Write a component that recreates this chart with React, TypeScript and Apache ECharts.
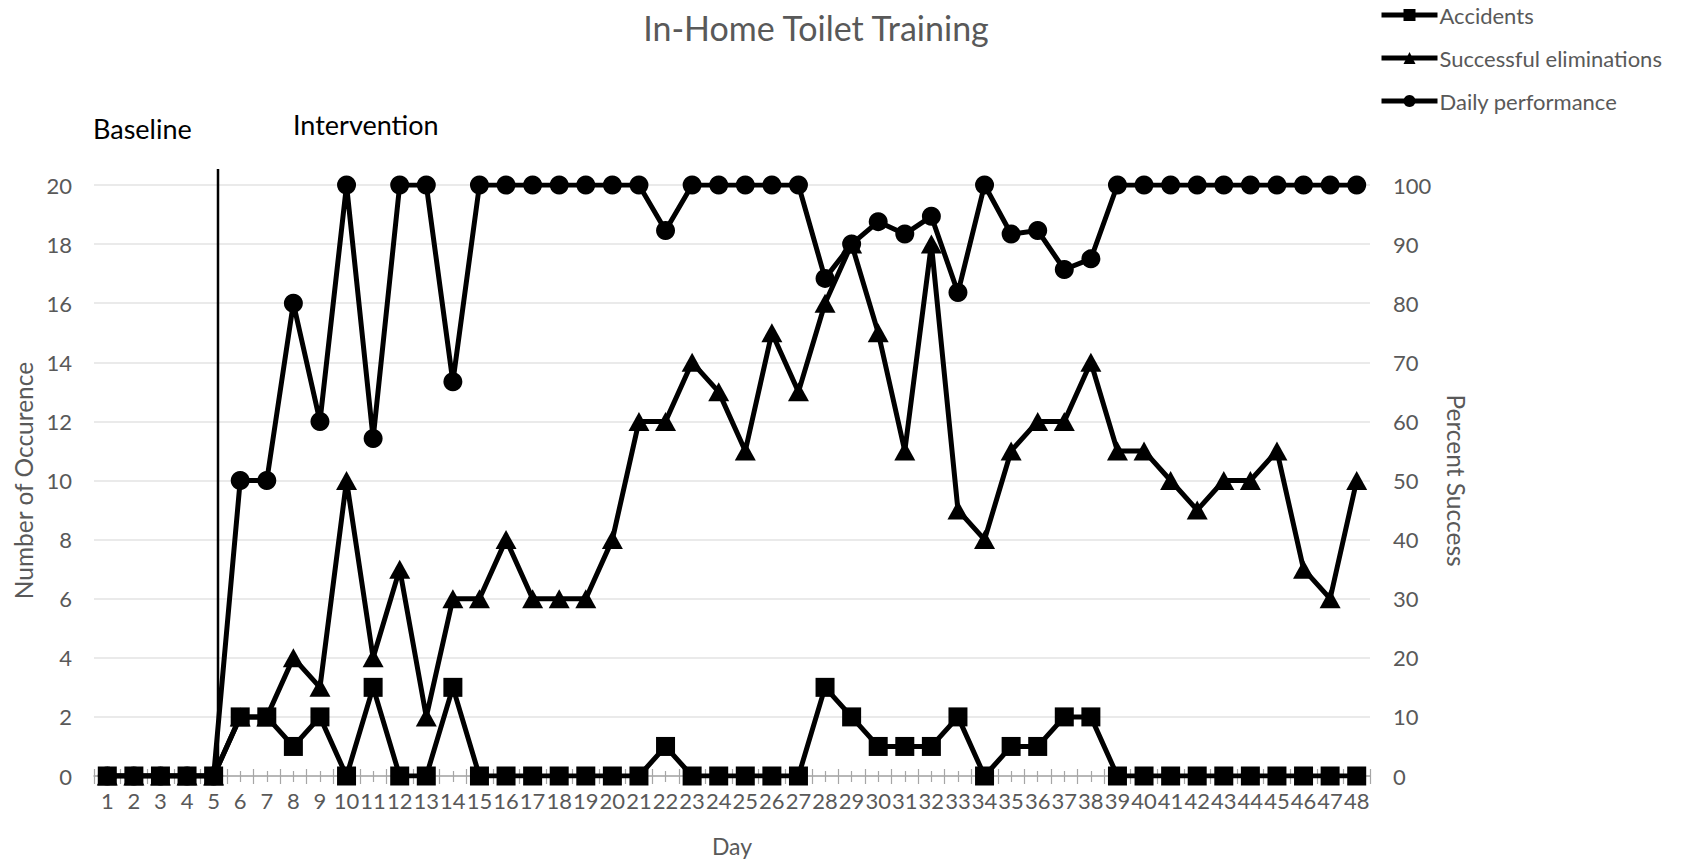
import React, { useEffect, useRef } from "react";
import * as echarts from "echarts";

const days = [
  "1", "2", "3", "4", "5", "6", "7", "8", "9", "10", "11", "12", "13", "14", "15", "16",
  "17", "18", "19", "20", "21", "22", "23", "24", "25", "26", "27", "28", "29", "30", "31", "32",
  "33", "34", "35", "36", "37", "38", "39", "40", "41", "42", "43", "44", "45", "46", "47", "48",
];

const accidents = [
  0, 0, 0, 0, 0, 2, 2, 1, 2, 0, 3, 0, 0, 3, 0, 0,
  0, 0, 0, 0, 0, 1, 0, 0, 0, 0, 0, 3, 2, 1, 1, 1,
  2, 0, 1, 1, 2, 2, 0, 0, 0, 0, 0, 0, 0, 0, 0, 0,
];

const successes = [
  0, 0, 0, 0, 0, 2, 2, 4, 3, 10, 4, 7, 2, 6, 6, 8,
  6, 6, 6, 8, 12, 12, 14, 13, 11, 15, 13, 16, 18, 15, 11, 18,
  9, 8, 11, 12, 12, 14, 11, 11, 10, 9, 10, 10, 11, 7, 6, 10,
];

const performance = [
  0, 0, 0, 0, 0, 50, 50, 80, 60, 100, 57.1, 100, 100, 66.7, 100, 100,
  100, 100, 100, 100, 100, 92.3, 100, 100, 100, 100, 100, 84.2, 90, 93.8, 91.7, 94.7,
  81.8, 100, 91.7, 92.3, 85.7, 87.5, 100, 100, 100, 100, 100, 100, 100, 100, 100, 100,
];

const leftTicks = { min: 0, max: 20, interval: 2 };
const rightTicks = { min: 0, max: 100, interval: 10 };

const FONT = "Lato";
const GRAY = "#595959";

export default function App() {
  const ref = useRef<HTMLDivElement>(null);

  useEffect(() => {
    document.body.style.margin = "0";
    document.body.style.overflow = "hidden";
    if (!ref.current) return;
    const chart = echarts.init(ref.current, null, { renderer: "svg" });

    const tickAxisBase = {
      type: "category" as const,
      data: days,
      position: "bottom" as const,
      boundaryGap: true,
      axisLine: { show: false },
      axisLabel: { show: false },
      splitLine: { show: false },
    };

    chart.setOption({
      animation: false,
      backgroundColor: "#ffffff",
      textStyle: { fontFamily: FONT },
      grid: { left: 94, right: 316, top: 185, bottom: 88, containLabel: false },
      legend: {
        orient: "vertical",
        left: 1374,
        top: -1,
        itemWidth: 56,
        itemHeight: 15,
        itemGap: 21,
        lineStyle: { width: 5, color: "#000" },
        textStyle: { fontSize: 22, color: GRAY, fontFamily: FONT, padding: [0, 0, 0, -3] },
        data: ["Accidents", "Successful eliminations", "Daily performance"],
      },
      xAxis: [
        {
          type: "category",
          data: days,
          boundaryGap: true,
          name: "Day",
          nameLocation: "middle",
          nameGap: 58,
          nameTextStyle: { fontSize: 23, color: GRAY, fontFamily: FONT },
          axisLine: { lineStyle: { color: "#a6a6a6", width: 1.5 } },
          axisTick: { show: false },
          axisLabel: { interval: 0, color: GRAY, fontSize: 22, margin: 13, fontFamily: FONT },
        },
        {
          ...tickAxisBase,
          offset: -7,
          axisTick: {
            show: true,
            interval: 0,
            alignWithLabel: false,
            length: 15,
            lineStyle: { color: "#a6a6a6", width: 1.2 },
          },
        },
        {
          ...tickAxisBase,
          offset: -5,
          axisTick: {
            show: true,
            interval: 0,
            alignWithLabel: true,
            length: 11,
            lineStyle: { color: "#a6a6a6", width: 1.2 },
          },
        },
      ],
      yAxis: [
        {
          type: "value",
          position: "left",
          ...leftTicks,
          name: "Number of Occurence",
          nameLocation: "middle",
          nameGap: 57,
          nameRotate: 90,
          nameTextStyle: { fontSize: 24.5, color: GRAY, fontFamily: FONT },
          axisLine: { show: false },
          axisTick: { show: false },
          axisLabel: { color: GRAY, fontSize: 22, margin: 22, fontFamily: FONT },
          splitLine: { lineStyle: { color: "#e3e3e3", width: 1.5 } },
        },
        {
          type: "value",
          position: "right",
          ...rightTicks,
          name: "Percent Success",
          nameLocation: "middle",
          nameGap: 74,
          nameRotate: -90,
          nameTextStyle: { fontSize: 24.5, color: GRAY, fontFamily: FONT },
          axisLine: { show: false },
          axisTick: { show: false },
          axisLabel: { color: GRAY, fontSize: 22, margin: 23, fontFamily: FONT },
          splitLine: { show: false },
        },
      ],
      series: [
        {
          name: "Accidents",
          type: "line",
          data: accidents,
          symbol: "rect",
          symbolSize: 19,
          z: 4,
          lineStyle: { color: "#000", width: 5 },
          itemStyle: { color: "#000" },
        },
        {
          name: "Successful eliminations",
          type: "line",
          data: successes,
          symbol: "triangle",
          symbolSize: [21, 19],
          z: 3,
          lineStyle: { color: "#000", width: 5 },
          itemStyle: { color: "#000" },
        },
        {
          name: "Daily performance",
          type: "line",
          yAxisIndex: 1,
          data: performance,
          symbol: "circle",
          symbolSize: 19,
          z: 2,
          lineStyle: { color: "#000", width: 5 },
          itemStyle: { color: "#000" },
        },
      ],
      graphic: [
        {
          type: "text",
          x: 816,
          y: 27,
          style: {
            text: "In-Home Toilet Training",
            fill: GRAY,
            font: `34px ${FONT}`,
            textAlign: "center",
            textVerticalAlign: "middle",
          },
        },
        {
          type: "text",
          x: 93,
          y: 128,
          style: {
            text: "Baseline",
            fill: "#000",
            font: `27px ${FONT}`,
            textAlign: "left",
            textVerticalAlign: "middle",
          },
        },
        {
          type: "text",
          x: 293,
          y: 124,
          style: {
            text: "Intervention",
            fill: "#000",
            font: `27px ${FONT}`,
            textAlign: "left",
            textVerticalAlign: "middle",
          },
        },
        {
          type: "line",
          shape: { x1: 218, y1: 169, x2: 218, y2: 776 },
          style: { stroke: "#000", lineWidth: 2.5 },
          z: 10,
        },
      ],
    });

    return () => chart.dispose();
  }, []);

  return <div ref={ref} style={{ width: 1686, height: 864 }} />;
}
